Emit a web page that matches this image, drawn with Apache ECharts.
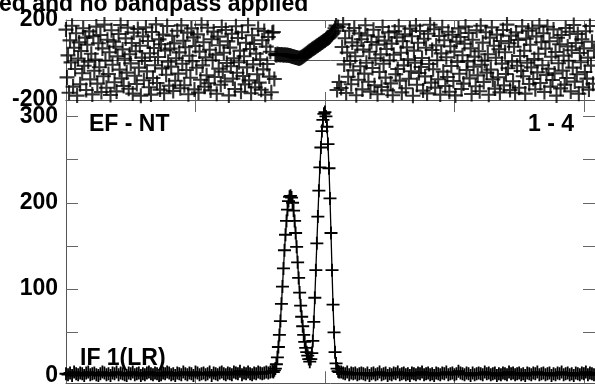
<!DOCTYPE html>
<html>
<head>
<meta charset="utf-8">
<script src="https://cdn.jsdelivr.net/npm/echarts@6/dist/echarts.min.js"></script>
<style>
html,body{margin:0;padding:0;background:#fff;}
#chart{width:595px;height:387px;}
</style>
</head>
<body>
<div id="chart"></div>
<script>
// ---- data ----
// channel segments: start channel and channel step of each segment
const ampStart = [0, 410, 544];
const ampStep = [4, 2, 4];
const phaseStart = [0, 410, 544];
const phaseStep = [2, 2, 2];

// amplitude (bottom panel)
const ampA = [2,1,3,0,4,2,1,3,2,0,3,4,1,2,3,1,0,2,4,3,
 1,2,0,3,2,4,1,3,2,1,0,3,2,4,1,2,3,0,2,1,
 3,4,2,1,3,2,0,1,3,2,4,3,1,2,0,3,2,1,4,2,
 1,3,2,0,4,3,1,2,3,1,2,4,0,3,2,1,3,4,2,1,
 3,2,1,4,3,2,5,1,3,2,4,2,1,3,2,4,3,2,3,4,
 3,4,5];
const ampB = [4,6,8,13,21,33,47,63,83,103,
 124,145,163,179,192,202,207,208,206,200,
 191,179,165,149,131,113,96,81,68,57,
 47,39,32,27,23,19,16,19,26,40,
 62,90,122,153,184,214,241,264,283,296,
 303,305,300,288,268,240,205,165,122,82,
 50,27,14,8,5,4];
const ampC = [4,3,2,4,1,3,2,3,1,2,
 3,2,1,3,0,2,3,1,2,4,
 1,2,3,0,2,1,3,2,4,1,
 2,3,1,2,0,3,2,1,3,2,
 4,1,2,3,1,2,0,3,2,1,
 3,2,4,1,2,3,1,2,5,3,
 2,1,3,2,0,3,1,2,3,2,
 1,4,2,3,1,2,3,0,2,1,
 3,2,1,4,2,3,1,2,3,1,
 2,0,3,2,1,3,2,4,1,2,
 3,1,2,3,0,2,1,3,2,4,
 1,2,3,1,2,0,3,2,1,3,
 2,4,1,3,2,1];

// phase (top panel), degrees
const phaseA = [152,-87,23,-164,98,-12,171,-133,61,-45,134,-178,7,88,-121,45,-66,159,-29,112,
 -150,76,-8,143,-97,31,-172,119,-54,2,167,-118,84,-36,125,-160,58,-81,177,-3,
 -139,101,-70,39,-175,149,-24,92,-111,66,-157,18,130,-48,175,-92,53,-130,6,108,
 -63,162,-144,29,-17,85,-168,137,-79,44,-120,155,-38,71,-179,12,118,-101,-5,163,
 -57,95,-136,34,-173,140,-90,60,-26,178,-115,15,103,-148,79,-42,127,-166,48,-74,
 170,-9,-128,57,-33,121,-155,83,-104,9,146,-68,38,-141,173,-19,96,-126,64,-50,
 137,-171,21,-89,158,-6,113,-147,70,-39,128,-163,42,-99,176,-27,89,-134,13,-76,
 161,-116,51,-152,104,-1,142,-85,27,-169,117,-43,74,-124,165,-58,36,-107,150,-15,
 93,-177,62,-31,131,-93,8,-145,169,-64,110,-11,47,-159,139,-80,19,-122,86,-37,
 174,-102,55,-166,124,-22,80,-137,32,-71,156,-113,3,-149,99,-47,145,-174,67,-20,
 115,-83,41,-161,136];
const phaseB = [140,-95,28,24,30,26,28,25,27,26,
 24,26,25,24,25,23,22,21,19,18,
 16,15,13,12,10,9,9,11,14,17,
 21,25,29,33,37,41,45,48,52,56,
 59,63,66,70,73,77,80,84,88,91,
 95,98,102,106,109,113,118,124,130,137,
 145,158,172,-150,165,-110];
const phaseC = [-140,65,178,-22,109,-165,37,-84,146,-5,-121,88,-52,160,19,-176,71,-99,133,-31,
 104,-147,52,-68,174,-14,123,-109,41,-158,90,-40,151,-126,8,77,-171,116,-60,28,
 -135,165,-19,97,-88,55,-152,138,-2,-117,82,-176,26,143,-71,113,-45,169,-103,36,
 -162,94,-27,128,-141,63,3,-94,157,-56,119,-179,47,-13,172,-124,86,-65,145,-35,
 10,-153,106,-82,61,-167,131,-20,176,-113,50,-46,154,-138,73,-1,-96,120,-173,33,
 164,-58,99,-130,14,-85,141,-159,69,-30,126,-105,42,-177,92,-10,158,-69,115,-145,
 24,-118,81,167,-50,-7,135,-92,58,-170,101,-34,17,-131,148,-77,44,-156,171,-24,
 87,-110,-3,139,-63,29,-174,112,-48,163,-97,71,-143,11,127,-86,54,-162,95,-18,
 150,-127,39,-70,177,-41,84,-150,122,-8,-106,66,-164,138,-29,100,-139,20,-55,168,
 -81,46,-168,107,-13,147,-120,76,-37,159,-95,5,-146,118,-62,31,172,-115,89,-26,
 134,-160,57,-75,166,-44,94,-133,16,-100,153,-67,40,-178,111,-16,79,-142,125,-53,
 22,-123,160,-90,68,-4,141,-157,49,-38,175,-108,85,-71,130,-169,35,-11,103,-136,
 58,-60,144,-93,12,-148,170,-28,91,-119,46];

const phaseTicks = [-200, 200];
const ampLabels = [0, 100, 200, 300];
const ampTicks = [0, 50, 100, 150, 200, 250, 300];
const chanTickStep = 256;

const titleText = 'ed and no bandpass applied';
const baselineText = 'EF - NT';
const stokesText = 'IF 1(LR)';
const pageText = '1 - 4';

// ---- build pairs ----
function build(segs, starts, steps) {
  const out = [];
  segs.forEach((arr, s) => {
    arr.forEach((v, i) => out.push([starts[s] + i * steps[s], v]));
  });
  return out;
}
const ampData = build([ampA, ampB, ampC], ampStart, ampStep);
const phaseData = build([phaseA, phaseB, phaseC], phaseStart, phaseStep);

const PLUS = 'path://M0,8.6H20V11.4H0ZM8.6,0H11.4V20H8.6Z';
const FONT = '"Liberation Sans", Arial, sans-serif';
const FS = 23;
const frameColor = '#555';
const tickColor = '#666';
const labelStyle = { color: '#000', fontFamily: FONT, fontWeight: 'bold', fontSize: FS };

const chart = echarts.init(document.getElementById('chart'), null, { renderer: 'canvas' });

function xAx(grid, pos, len) {
  return {
    type: 'value', gridIndex: grid, position: pos, min: 0, max: 1046, interval: chanTickStep,
    axisLine: { show: true, onZero: false, lineStyle: { color: frameColor, width: 1 } },
    axisTick: { show: true, inside: true, length: len, lineStyle: { color: tickColor } },
    axisLabel: { show: false }, splitLine: { show: false }
  };
}

chart.setOption({
  animation: false,
  backgroundColor: '#fff',
  grid: [
    { left: 66, right: -2, top: 20, height: 80 },
    { left: 66, right: -2, top: 100, bottom: -1 }
  ],
  xAxis: [
    xAx(0, 'bottom', 8), xAx(0, 'top', 8),
    xAx(1, 'bottom', 12), xAx(1, 'top', 12)
  ],
  yAxis: [
    {
      type: 'value', gridIndex: 0, position: 'left', min: -200, max: 200, interval: 200,
      axisLine: { show: true, onZero: false, lineStyle: { color: frameColor } },
      axisTick: { show: false },
      axisLabel: Object.assign({ customValues: phaseTicks, margin: 8 }, labelStyle),
      splitLine: { show: true, lineStyle: { color: frameColor, width: 1 } }
    },
    {
      type: 'value', gridIndex: 0, position: 'right', min: -200, max: 200, interval: 200,
      axisLine: { show: true, onZero: false, lineStyle: { color: frameColor } },
      axisTick: { show: false }, axisLabel: { show: false }, splitLine: { show: false }
    },
    {
      type: 'value', gridIndex: 1, position: 'left', min: -9, max: 319,
      axisLine: { show: true, onZero: false, lineStyle: { color: frameColor } },
      axisTick: { show: true, inside: true, length: 12, customValues: ampTicks, lineStyle: { color: tickColor } },
      axisLabel: Object.assign({ customValues: ampLabels, margin: 8 }, labelStyle),
      splitLine: { show: false }
    },
    {
      type: 'value', gridIndex: 1, position: 'right', min: -9, max: 319,
      axisLine: { show: true, onZero: false, lineStyle: { color: frameColor } },
      axisTick: { show: true, inside: true, length: 12, customValues: ampTicks, lineStyle: { color: tickColor } },
      axisLabel: { show: false }, splitLine: { show: false }
    }
  ],
  series: [
    {
      type: 'scatter', xAxisIndex: 0, yAxisIndex: 0, data: phaseData,
      symbol: PLUS, symbolSize: 15, itemStyle: { color: '#000' }, clip: false,
      silent: true
    },
    {
      type: 'line', xAxisIndex: 2, yAxisIndex: 2, data: ampData,
      symbol: PLUS, symbolSize: 13, showSymbol: true, showAllSymbol: true,
      itemStyle: { color: '#000' }, lineStyle: { color: '#000', width: 1.3 },
      clip: false, silent: true
    }
  ],
  graphic: [
    { type: 'text', left: -1, top: -7, style: { text: titleText, fill: '#000', font: 'bold ' + FS + 'px ' + FONT } },
    { type: 'text', left: 89, top: 113, style: { text: baselineText, fill: '#000', font: 'bold ' + FS + 'px ' + FONT } },
    { type: 'text', right: 21, top: 113, style: { text: pageText, fill: '#000', font: 'bold ' + FS + 'px ' + FONT } },
    { type: 'text', left: 80, top: 347, style: { text: stokesText, fill: '#000', font: 'bold ' + FS + 'px ' + FONT } }
  ]
});
</script>
</body>
</html>
